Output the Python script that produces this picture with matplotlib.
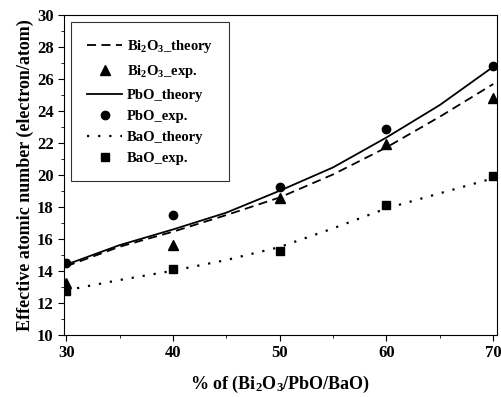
import matplotlib
matplotlib.use("Agg")
import matplotlib.pyplot as plt
from matplotlib.ticker import MultipleLocator

plt.rcParams['font.family'] = 'Liberation Serif'
plt.rcParams['font.weight'] = 'bold'
plt.rcParams['mathtext.fontset'] = 'custom'
plt.rcParams['mathtext.bf'] = 'Liberation Serif:bold'
plt.rcParams['mathtext.rm'] = 'Liberation Serif:bold'
plt.rcParams['mathtext.default'] = 'bf'

# experimental points
x_exp = [30, 40, 50, 60, 70]
bi_exp = [13.23, 15.63, 18.54, 21.94, 24.79]
pb_exp = [14.48, 17.52, 19.27, 22.85, 26.83]
ba_exp = [12.77, 14.10, 15.25, 18.13, 19.94]

# theory curves (read every 5 %)
x_th = [30, 35, 40, 45, 50, 55, 60, 65, 70]
bi_th = [14.3, 15.52, 16.46, 17.5, 18.6, 20.04, 21.73, 23.65, 25.69]
pb_th = [14.4, 15.62, 16.6, 17.65, 19.02, 20.48, 22.35, 24.38, 26.77]
ba_th = [12.8, 13.44, 14.02, 14.69, 15.5, 16.67, 17.92, 18.86, 19.8]

fig = plt.figure(figsize=(5.02, 3.97), dpi=100)
ax = fig.add_axes([0.1275, 0.156, 0.8625, 0.806])

ax.plot(x_th, bi_th, color='black', linestyle=(0, (5, 3)), linewidth=1.3, label='Bi$_2$O$_3$_theory')
ax.plot(x_exp, bi_exp, linestyle='none', marker='^', color='black', markersize=6.5, label='Bi$_2$O$_3$_exp.')
ax.plot(x_th, pb_th, color='black', linestyle='-', linewidth=1.3, label='PbO_theory')
ax.plot(x_exp, pb_exp, linestyle='none', marker='o', color='black', markersize=6, label='PbO_exp.')
ax.plot(x_th, ba_th, color='black', linestyle=(0, (1, 4)), linewidth=1.6, label='BaO_theory')
ax.plot(x_exp, ba_exp, linestyle='none', marker='s', color='black', markersize=5.5, label='BaO_exp.')

ax.set_xlim(29.8, 70.35)
ax.set_ylim(10, 30)
ax.xaxis.set_major_locator(MultipleLocator(10))
ax.xaxis.set_minor_locator(MultipleLocator(5))
ax.yaxis.set_major_locator(MultipleLocator(2))
ax.yaxis.set_minor_locator(MultipleLocator(1))
ax.tick_params(which='major', direction='out', length=4, labelsize=12)
ax.tick_params(which='minor', direction='out', length=2)

ax.set_xlabel('% of (Bi$_2$O$_3$/PbO/BaO)', fontsize=13, fontweight='bold', labelpad=9)
ax.set_ylabel('Effective atomic number (electron/atom)', fontsize=13, fontweight='bold', labelpad=2)

leg = ax.legend(loc='upper left', fontsize=10.5, frameon=True, fancybox=False,
                edgecolor='black', handlelength=2.4, handletextpad=0.3, borderpad=1.1,
                labelspacing=0.55, bbox_to_anchor=(0.0, 1.0))
leg.get_frame().set_linewidth(0.8)

fig.savefig('out.png', dpi=100)
